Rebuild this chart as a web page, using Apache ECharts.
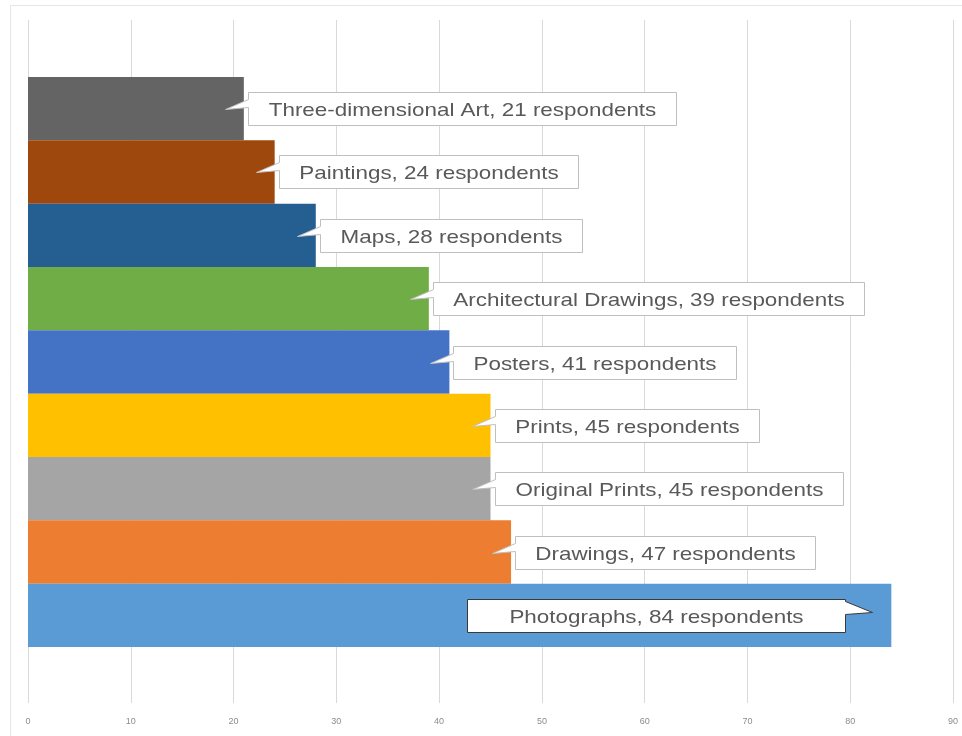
<!DOCTYPE html>
<html>
<head>
<meta charset="utf-8">
<script src="https://cdn.jsdelivr.net/npm/echarts@6/dist/echarts.min.js"></script>
<style>
html,body{margin:0;padding:0;background:#fff;}
#chart{width:962px;height:736px;}
</style>
</head>
<body>
<div id="chart"></div>
<script>
// Data (top to bottom)
var categories = ['Three-dimensional Art', 'Paintings', 'Maps', 'Architectural Drawings', 'Posters', 'Prints', 'Original Prints', 'Drawings', 'Photographs'];
var respondents = [21, 24, 28, 39, 41, 45, 45, 47, 84];
var barColors = ['#646464', '#9E480E', '#255E91', '#70AD47', '#4472C4', '#FFC000', '#A5A5A5', '#ED7D31', '#5B9BD5'];
var xTicks = { min: 0, max: 90, interval: 10 };

var FONT = '19px "Liberation Sans", Arial, sans-serif';
var TEXT_SCALE = 1.18;
var measureCtx = document.createElement('canvas').getContext('2d');
measureCtx.font = FONT;
function textWidth(t) { return measureCtx.measureText(t).width * TEXT_SCALE; }

var chart = echarts.init(document.getElementById('chart'), null, { renderer: 'canvas' });

var barData = respondents.map(function (v, i) {
  return { value: v, itemStyle: { color: barColors[i] } };
});
var calloutData = respondents.map(function (v, i) { return [v, i]; });

function renderCallout(params, api) {
  var v = api.value(0), idx = api.value(1);
  var p = api.coord([v, idx]);
  var text = categories[idx] + ', ' + v + ' respondents';
  var tw = textWidth(text);
  var h = 33;
  var plotRight = params.coordSys.x + params.coordSys.width;
  var T = Math.round(p[1] - h / 2) + 0.5, B = T + h;
  var L, R, pts, stroke, w;
  w = Math.round(tw + 40);
  if (p[0] + 4 + w <= plotRight) {
    L = Math.round(p[0] + 4) + 0.5; R = L + w;
    pts = [[L, T], [R, T], [R, B], [L, B], [L, T + 15], [L - 23, T + 17], [L, T + 7]];
    stroke = '#BFBFBF';
  } else {
    w = Math.round(tw + 84);
    R = Math.round(p[0] - 46) + 0.5; L = R - w;
    pts = [[L, T], [R, T], [R, T + 2], [R + 27, T + 13], [R, T + 15], [R, B], [L, B]];
    stroke = '#3a3a3a';
  }
  return {
    type: 'group',
    children: [
      { type: 'polygon', shape: { points: pts }, style: { fill: '#fff', stroke: stroke, lineWidth: 1 } },
      {
        type: 'text', x: (L + R) / 2, y: (T + B) / 2 + 1.5, scaleX: TEXT_SCALE, scaleY: 1,
        style: { text: text, x: 0, y: 0, align: 'center', verticalAlign: 'middle', font: FONT, fill: '#595959' }
      }
    ]
  };
}

var option = {
  backgroundColor: '#fff',
  animation: false,
  graphic: [{
    type: 'rect', silent: true, z: -10,
    shape: { x: 10.5, y: 5.5, width: 960, height: 740 },
    style: { fill: 'none', stroke: '#E6E6E6', lineWidth: 1 }
  }],
  grid: [
    { left: 28, right: 9, top: 20, bottom: 33 },
    { left: 28, right: 9, top: 77, bottom: 89 }
  ],
  xAxis: [
    {
      gridIndex: 0, type: 'value', min: xTicks.min, max: xTicks.max, interval: xTicks.interval,
      axisLine: { show: false }, axisTick: { show: false },
      axisLabel: { fontSize: 9, color: '#8C8C8C', margin: 14, fontFamily: '"Liberation Sans", Arial, sans-serif' },
      splitLine: { show: true, lineStyle: { color: '#D9D9D9', width: 1 } }
    },
    {
      gridIndex: 1, type: 'value', min: xTicks.min, max: xTicks.max, interval: xTicks.interval,
      show: false, splitLine: { show: false }
    }
  ],
  yAxis: [
    { gridIndex: 0, type: 'value', show: false, splitLine: { show: false } },
    { gridIndex: 1, type: 'category', data: categories, inverse: true, show: false }
  ],
  series: [
    {
      type: 'bar', xAxisIndex: 1, yAxisIndex: 1, data: barData,
      barCategoryGap: '0%', silent: true
    },
    {
      type: 'custom', xAxisIndex: 1, yAxisIndex: 1, data: calloutData,
      renderItem: renderCallout, clip: false, z: 5, silent: true
    }
  ]
};
chart.setOption(option);
</script>
</body>
</html>
